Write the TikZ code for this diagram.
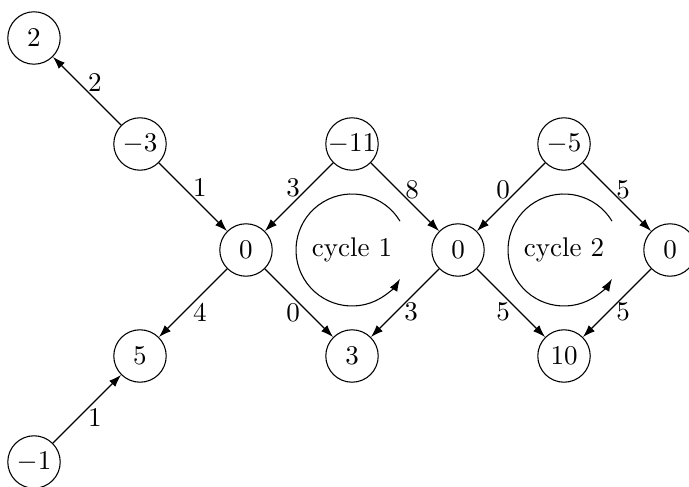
\documentclass[tikz,border=0pt]{standalone}
\usetikzlibrary{arrows.meta}
\begin{document}
\begin{tikzpicture}[x=0.37pt,y=0.37pt,
  vtx/.style={draw,circle,minimum size=19.4pt,inner sep=0pt,line width=0.4pt},
  edge/.style={-{Latex[length=4.6pt,width=3.2pt]},line width=0.45pt},
  lbl/.style={inner sep=0pt,anchor=center},
  cyc/.style={-{Latex[length=4.6pt,width=3.2pt]},line width=0.4pt}]
\useasboundingbox (0,0) rectangle (689,-487);
\node[vtx] (n2)   at (34,-38)   {$2$};
\node[vtx] (nm3)  at (140,-144) {$-3$};
\node[vtx] (z1)   at (246,-250) {$0$};
\node[vtx] (n5)   at (140,-356) {$5$};
\node[vtx] (nm1)  at (34,-462)  {$-1$};
\node[vtx] (nm11) at (352,-144) {$-11$};
\node[vtx] (n3)   at (352,-356) {$3$};
\node[vtx] (z2)   at (458,-250) {$0$};
\node[vtx] (nm5)  at (564,-144) {$-5$};
\node[vtx] (n10)  at (564,-356) {$10$};
\node[vtx] (z3)   at (670,-250) {$0$};
\coordinate (c1) at (352,-250);
\coordinate (c2) at (564,-250);
\draw[edge] (nm3) -- node[lbl,pos=0.5,shift={(8,8)}] {$2$} (n2);
\draw[edge] (nm3) -- node[lbl,pos=0.5,shift={(7,9)}] {$1$} (z1);
\draw[edge] (nm11) -- node[lbl,pos=0.5,shift={(-6,9)}] {$3$} (z1);
\draw[edge] (nm11) -- node[lbl,pos=0.5,shift={(7,7)}] {$8$} (z2);
\draw[edge] (z1) -- node[lbl,pos=0.5,shift={(7,-10)}] {$4$} (n5);
\draw[edge] (z1) -- node[lbl,pos=0.5,shift={(-6,-10)}] {$0$} (n3);
\draw[edge] (z2) -- node[lbl,pos=0.5,shift={(6,-9)}] {$3$} (n3);
\draw[edge] (nm5) -- node[lbl,pos=0.5,shift={(-8,7)}] {$0$} (z2);
\draw[edge] (nm5) -- node[lbl,pos=0.5,shift={(6,7)}] {$5$} (z3);
\draw[edge] (z2) -- node[lbl,pos=0.5,shift={(-8,-9)}] {$5$} (n10);
\draw[edge] (z3) -- node[lbl,pos=0.5,shift={(6,-9)}] {$5$} (n10);
\draw[edge] (nm1) -- node[lbl,pos=0.5,shift={(8,-9)}] {$1$} (n5);
\node (t1) at (c1) {cycle 1};
\node (t2) at (c2) {cycle 2};
\draw[cyc] ([shift={(31:20.72pt)}]c1) arc[start angle=31,end angle=329,radius=20.72pt];
\draw[cyc] ([shift={(31:20.72pt)}]c2) arc[start angle=31,end angle=329,radius=20.72pt];
\end{tikzpicture}
\end{document}
